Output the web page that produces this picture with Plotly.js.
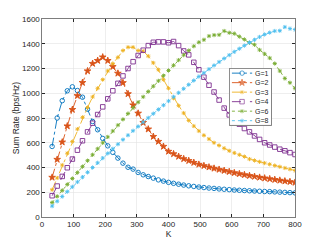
<!DOCTYPE html>
<html>
<head>
<meta charset="utf-8">
<script src="https://cdn.plot.ly/plotly-3.0.1.min.js"></script>
<style>
html,body{margin:0;padding:0;background:#fff;}
#chart{width:325px;height:244px;}
</style>
</head>
<body>
<div id="chart"></div>
<script>
const K = [32,48,64,80,96,112,128,144,160,176,192,208,224,240,256,272,288,304,320,336,352,368,384,400,416,432,448,464,480,496,512,528,544,560,576,592,608,624,640,656,672,688,704,720,736,752,768,784,800];

const G1 = [570,800,940,1020,1052,1022,968,871,772,705,635,575,522,476,435,402,387,360,341,327,314,300,290,280,272,265,258,252,247,242,238,234,231,227,224,221,218,216,214,212,210,208,206,205,203,201,199,197,195];
const G2 = [320,465,605,735,868,980,1086,1180,1240,1264,1292,1264,1215,1161,1085,995,905,838,763,710,650,610,570,530,510,489,470,455,440,425,414,403,393,384,375,366,357,349,341,334,327,320,314,308,302,296,290,285,279];
const G3 = [220,315,420,515,610,710,805,885,970,1040,1110,1180,1240,1290,1345,1372,1372,1345,1340,1300,1245,1190,1110,1040,960,900,840,780,735,695,660,630,600,578,555,535,518,503,488,468,457,446,436,426,416,406,396,386,376];
const G4 = [172,250,328,398,468,540,616,688,758,828,890,955,1020,1080,1140,1200,1255,1305,1348,1385,1412,1415,1415,1408,1418,1385,1342,1310,1250,1190,1130,1065,1010,945,880,825,785,750,715,688,655,627,600,582,565,548,535,520,505];
const G6 = [117,167,215,263,311,359,407,455,503,551,599,647,695,742,789,836,882,927,971,1014,1057,1100,1142,1184,1226,1268,1308,1345,1380,1412,1432,1462,1470,1472,1503,1489,1482,1458,1435,1408,1392,1350,1318,1285,1240,1180,1120,1085,1040];
const G8 = [88,127,166,205,244,283,322,361,400,438,476,514,551,588,625,661,697,732,767,801,835,869,903,937,971,1004,1037,1070,1103,1135,1165,1195,1225,1253,1281,1308,1335,1360,1385,1410,1432,1455,1475,1490,1503,1505,1535,1522,1515];

const names = ['G=1','G=2','G=3','G=4','G=6','G=8'];
const series = [G1,G2,G3,G4,G6,G8];
const colors = ['#0072BD','#D95319','#EDB120','#7E2F8E','#77AC30','#4DBEEE'];
const dashes = ['dashdot','dashdot','dashdot','dash','dot','dot'];
const symbols = ['circle-open','star','asterisk-open','square-open','asterisk-open','asterisk-open'];
const sizes = [4.5,5,3.5,4.5,3.5,3.5];

const FONT = 'Liberation Sans, Arial, sans-serif';
const INK = '#262626';

const traces = series.map((s,i)=>({
  x: K, y: s, name: names[i], type:'scatter', mode:'lines+markers', showlegend:false,
  line:{color:colors[i], width:0.9, dash:dashes[i]},
  marker:{symbol:symbols[i], size:sizes[i], color:colors[i], line:{color:colors[i], width:0.9}}
}));

// compact legend drawn on an auxiliary subplot (x2/y2), which is layered above the main one
const nRows = names.length;
traces.push({
  x:[0,1,1,0,0], y:[0,0,nRows,nRows,0], xaxis:'x2', yaxis:'y2', type:'scatter', mode:'lines',
  fill:'toself', fillcolor:'#ffffff', line:{color:INK, width:0.6}, showlegend:false, hoverinfo:'skip'
});
const rows = names.map((n,i)=>nRows - i - 0.5);
names.forEach((n,i)=>{
  traces.push({
    x:[0.06,0.3,0.54], y:[rows[i],rows[i],rows[i]], xaxis:'x2', yaxis:'y2',
    type:'scatter', mode:'lines+markers', showlegend:false, hoverinfo:'skip',
    line:{color:colors[i], width:0.9, dash:dashes[i]},
    marker:{symbol:symbols[i], size:[0,sizes[i],0], color:colors[i], line:{color:colors[i], width:0.9}}
  });
});

const annotations = names.map((n,i)=>({
  x:0.57, y:rows[i], xref:'x2', yref:'y2', text:n, showarrow:false, xanchor:'left', yanchor:'middle',
  font:{family:FONT, size:7, color:INK}
}));

const axisCommon = {
  showline:true, mirror:'ticks', linecolor:INK, linewidth:0.6,
  ticks:'inside', ticklen:3, tickcolor:INK,
  showgrid:true, gridcolor:'#e3e3e3', gridwidth:0.6,
  zeroline:false, tickfont:{family:FONT, size:8, color:INK}
};
const hiddenAxis = {showline:false, showgrid:false, zeroline:false, showticklabels:false, ticks:'', fixedrange:true};

const layout = {
  width:325, height:244,
  margin:{l:42, r:30, t:19, b:27},
  paper_bgcolor:'#fff', plot_bgcolor:'#fff',
  showlegend:false,
  xaxis: Object.assign({}, axisCommon, {domain:[0,1], range:[0,800], tickvals:[0,100,200,300,400,500,600,700,800],
    title:{text:'K', font:{family:FONT, size:8.5, color:INK}, standoff:2}}),
  yaxis: Object.assign({}, axisCommon, {domain:[0,1], range:[0,1600], tickvals:[0,200,400,600,800,1000,1200,1400,1600],
    title:{text:'Sum Rate (bps/Hz)', font:{family:FONT, size:8.5, color:INK}, standoff:0}}),
  xaxis2: Object.assign({}, hiddenAxis, {domain:[0.739,0.909], range:[-0.01,1.01], anchor:'y2'}),
  yaxis2: Object.assign({}, hiddenAxis, {domain:[0.46,0.753], range:[-0.05,nRows+0.05], anchor:'x2'}),
  annotations: annotations
};

Plotly.newPlot('chart', traces, layout, {displayModeBar:false, staticPlot:true});
</script>
</body>
</html>
